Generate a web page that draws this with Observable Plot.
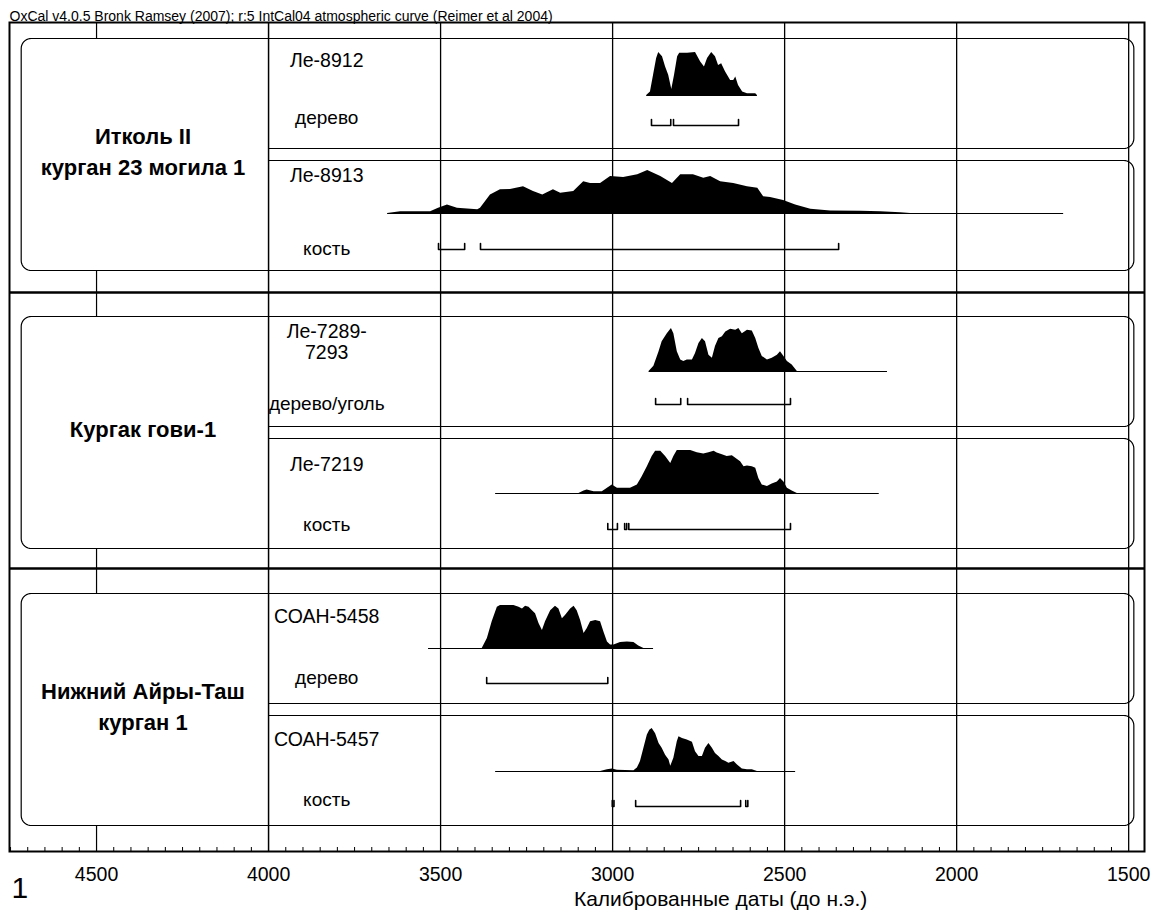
<!DOCTYPE html>
<html><head><meta charset="utf-8">
<script src="https://cdn.jsdelivr.net/npm/d3@7"></script>
<script src="https://cdn.jsdelivr.net/npm/@observablehq/plot@0.6"></script>
<style>body{margin:0;background:#fff;}</style>
</head><body><div id="chart"></div>
<script>
// ---------- data ----------
const caption = "OxCal v4.0.5 Bronk Ramsey (2007); r:5 IntCal04 atmospheric curve (Reimer et al 2004)";
const axisTitle = "Калиброванные даты (до н.э.)";
const figureNumber = "1";
const groupLabels = ["Итколь II\nкурган 23 могила 1", "Кургак гови-1", "Нижний Айры-Таш\nкурган 1"];
const sampleNames = ["Ле-8912", "Ле-8913", "Ле-7289-\n7293", "Ле-7219", "СОАН-5458", "СОАН-5457"];
const sampleMaterials = ["дерево", "кость", "дерево/уголь", "кость", "дерево", "кость"];
const sampleGroup = [0, 0, 1, 1, 2, 2];
const majorTicks = [4500, 4000, 3500, 3000, 2500, 2000, 1500];

// probability distributions: [year BC, relative probability]
const densLe8912 = [[2901,0],[2890,8],[2881,47],[2872,86],[2866,100],[2855,90],[2846,66],[2837,47],[2828,14],[2820,47],[2811,90],[2805,98],[2782,98],[2759,100],[2744,78],[2733,66],[2724,86],[2712,100],[2701,90],[2692,70],[2683,74],[2672,55],[2657,35],[2648,35],[2642,43],[2634,23],[2622,8],[2608,4],[2584,4],[2579,0]];
const densLe8913 = [[3654,0],[3616,4],[3529,4],[3506,12],[3480,20],[3451,12],[3392,9],[3384,12],[3355,43],[3326,55],[3297,56],[3259,62],[3230,51],[3203,43],[3172,55],[3151,47],[3113,51],[3084,74],[3064,70],[3035,70],[3006,86],[2968,84],[2927,90],[2898,100],[2860,86],[2826,70],[2802,90],[2765,90],[2735,82],[2715,86],[2686,74],[2648,70],[2608,62],[2578,59],[2561,39],[2541,37],[2503,30],[2468,20],[2424,10],[2366,6],[2279,5],[2221,4],[2163,2],[2134,0]];
const densLe7289 = [[2894,0],[2880,12],[2865,46],[2856,69],[2841,88],[2829,100],[2822,88],[2812,46],[2802,27],[2793,23],[2783,27],[2768,27],[2759,42],[2749,65],[2739,77],[2730,69],[2720,38],[2710,31],[2701,58],[2691,77],[2681,81],[2671,92],[2657,98],[2642,96],[2633,100],[2623,88],[2608,96],[2594,94],[2584,77],[2575,54],[2565,35],[2550,27],[2536,31],[2521,38],[2512,46],[2502,35],[2492,23],[2478,15],[2463,0]];
const densLe7219 = [[3098,0],[3083,6],[3074,8],[3054,4],[3030,4],[3015,12],[3001,20],[2986,12],[2948,12],[2928,20],[2914,39],[2899,62],[2885,86],[2875,98],[2860,98],[2846,86],[2831,70],[2822,86],[2812,100],[2773,100],[2754,95],[2735,92],[2720,95],[2705,98],[2696,94],[2681,90],[2667,86],[2652,88],[2642,82],[2628,74],[2618,62],[2608,64],[2594,62],[2584,59],[2575,35],[2565,20],[2550,16],[2536,22],[2521,27],[2512,35],[2502,27],[2492,12],[2478,6],[2463,0]];
const densSOAN5458 = [[3379,0],[3364,23],[3350,62],[3335,96],[3326,100],[3287,100],[3272,96],[3262,92],[3253,98],[3243,96],[3233,88],[3224,81],[3214,58],[3204,42],[3195,62],[3180,88],[3166,98],[3156,92],[3146,69],[3137,77],[3122,92],[3112,98],[3103,88],[3093,65],[3083,35],[3074,46],[3064,62],[3049,65],[3035,62],[3025,38],[3015,15],[3006,8],[2996,8],[2977,14],[2957,15],[2938,14],[2924,6],[2909,0]];
const densSOAN5457 = [[3035,0],[3015,4],[3001,6],[2986,3],[2938,2],[2928,8],[2919,23],[2909,54],[2899,85],[2892,96],[2885,100],[2875,88],[2865,65],[2856,54],[2846,38],[2836,27],[2831,12],[2822,31],[2812,69],[2807,81],[2797,77],[2783,73],[2768,68],[2759,46],[2749,35],[2739,35],[2730,54],[2720,65],[2710,54],[2701,42],[2691,35],[2681,27],[2671,23],[2662,19],[2647,23],[2637,15],[2623,6],[2608,4],[2594,4],[2579,0]];
const densities = [densLe8912, densLe8913, densLe7289, densLe7219, densSOAN5458, densSOAN5457];

// 95.4% ranges [from, to] (BC)
const rangesLe8912 = [[2887,2831],[2823,2634]];
const rangesLe8913 = [[3506,3430],[3384,2343]];
const rangesLe7289 = [[2875,2802],[2782,2483]];
const rangesLe7219 = [[3014,2986],[2965,2959],[2953,2483]];
const rangesSOAN5458 = [[3366,3014]];
const rangesSOAN5457 = [[3001,2996],[2933,2628],[2613,2607]];
const ranges = [rangesLe8912, rangesLe8913, rangesLe7289, rangesLe7219, rangesSOAN5458, rangesSOAN5457];

// extent of each distribution's base line (BC)
const baselineSpans = [[2901,2579],[3654,1689],[2894,2201],[3340,2225],[3535,2881],[3340,2468]];

// ---------- layout (y in layout units = pixels of the y scale) ----------
const groupHeights = [270, 276, 283];
const groupPad = [16, 24, 25];
const BOX_H = 110, BOX_GAP = 12;
const baseOff = [57, 53, 55, 55, 55, 56];
const bracketOff = [87, 89, 88, 91, 90, 91];
const nameOff = [22, 15, 25, 26, 23, 24];
const matOff = [79, 88, 87, 86, 84, 84];
const PEAK = 43, TICK = 6;
const X_DOMAIN = [4753, 1454];
const PX_PER_YEAR = 1135 / (X_DOMAIN[0] - X_DOMAIN[1]);
const LABEL_LEFT = 4719, BOX_RIGHT = 1485, COL_EDGE = 4000, TEXT_X = 3831, GROUP_TEXT_X = 4365, TITLE_X = 2686;
const R = 10, rY = R / PX_PER_YEAR;

const total = d3.sum(groupHeights);
const groupTop = groupHeights.map((h, i) => d3.sum(groupHeights.slice(0, i)));
const samples = sampleNames.map((name, i) => {
  const g = sampleGroup[i];
  const k = sampleGroup.slice(0, i).filter(v => v === g).length;
  const top = groupTop[g] + groupPad[g] + k * (BOX_H + BOX_GAP);
  return {i, g, name, material: sampleMaterials[i], top, bottom: top + BOX_H, base: top + baseOff[i]};
});
const groupBoxes = groupLabels.map((label, g) => {
  const ss = samples.filter(s => s.g === g);
  return {g, label, top: ss[0].top, bottom: ss[ss.length - 1].bottom};
});

function arc(cx, cy, a0, a1, n = 10) {
  return d3.range(n + 1).map(j => {
    const a = a0 + (a1 - a0) * j / n;
    return [cx - R * Math.cos(a) / PX_PER_YEAR, cy + R * Math.sin(a)];
  });
}
const outlinePts = [];
samples.forEach(s => {
  const pts = [[COL_EDGE, s.top], ...arc(BOX_RIGHT + rY, s.top + R, -Math.PI / 2, 0), ...arc(BOX_RIGHT + rY, s.bottom - R, 0, Math.PI / 2), [COL_EDGE, s.bottom]];
  pts.forEach(p => outlinePts.push({x: p[0], y: p[1], id: "s" + s.i}));
});
groupBoxes.forEach(b => {
  const pts = [[COL_EDGE, b.top], ...arc(LABEL_LEFT - rY, b.top + R, -Math.PI / 2, -Math.PI), ...arc(LABEL_LEFT - rY, b.bottom - R, Math.PI, Math.PI / 2), [COL_EDGE, b.bottom]];
  pts.forEach(p => outlinePts.push({x: p[0], y: p[1], id: "g" + b.g}));
});

// grid line at 4500 shows only in gaps between boxes
const gapSegs = [];
let prev = 0;
groupBoxes.forEach(b => { gapSegs.push({y1: prev, y2: b.top}); prev = b.bottom; });
gapSegs.push({y1: prev, y2: total});

const areaPts = [], basePts = [], bracketPts = [];
samples.forEach(s => {
  densities[s.i].forEach(([year, p]) => areaPts.push({year, y1: s.base, y2: s.base - PEAK * p / 100, id: s.i}));
  basePts.push({x1: baselineSpans[s.i][0], x2: baselineSpans[s.i][1], y: s.base});
  ranges[s.i].forEach(([a, b], j) => {
    const by = s.top + bracketOff[s.i];
    [[a, by - TICK], [a, by], [b, by], [b, by - TICK]].forEach(([x, y]) => bracketPts.push({x, y, id: s.i + "-" + j}));
  });
});
const minorTicks = d3.range(1500, 4751, 50).filter(t => t % 500 !== 0);
const FONT = "'Liberation Sans', Arial, sans-serif";

const chart = Plot.plot({
  width: 1157, height: 924,
  marginTop: 22, marginBottom: 73, marginLeft: 9, marginRight: 13,
  x: {domain: X_DOMAIN, axis: null},
  y: {domain: [0, total], reverse: true, axis: null},
  style: {fontFamily: FONT, background: "white", color: "black"},
  marks: [
    Plot.ruleX(majorTicks.filter(t => t !== 4500), {y1: 0, y2: total, stroke: "black", strokeWidth: d => d === 4000 ? 1.5 : 1.3}),
    Plot.ruleX(gapSegs, {x: 4500, y1: "y1", y2: "y2", stroke: "black", strokeWidth: 1.2}),
    Plot.ruleX(minorTicks, {y1: total - 4, y2: total, stroke: "black", strokeWidth: 1}),
    Plot.ruleY(groupTop.slice(1), {stroke: "black", strokeWidth: 2.4}),
    Plot.frame({stroke: "black", strokeWidth: 2}),
    Plot.line(outlinePts, {x: "x", y: "y", z: "id", stroke: "black", strokeWidth: 1.2, curve: "linear"}),
    Plot.ruleY(basePts, {x1: "x1", x2: "x2", y: "y", stroke: "black", strokeWidth: 1}),
    Plot.areaY(areaPts, {x: "year", y1: "y1", y2: "y2", z: "id", fill: "black", curve: "linear"}),
    Plot.line(bracketPts, {x: "x", y: "y", z: "id", stroke: "black", strokeWidth: 1.6, curve: "linear"}),
    Plot.text(groupBoxes, {x: GROUP_TEXT_X, y: d => (d.top + d.bottom) / 2 - 5, text: "label", fontSize: 22, fontWeight: "bold", lineHeight: 1.4, textAnchor: "middle"}),
    Plot.text(samples, {x: TEXT_X, y: d => d.top + nameOff[d.i], text: "name", fontSize: 19.5, lineHeight: 1.08, textAnchor: "middle"}),
    Plot.text(samples, {x: TEXT_X, y: d => d.top + matOff[d.i], text: "material", fontSize: 19, textAnchor: "middle"}),
    Plot.axisX(majorTicks, {tickSize: 0, tickPadding: 16, fontSize: 19.5, tickFormat: d => String(d), label: null}),
    Plot.text([axisTitle], {x: TITLE_X, frameAnchor: "bottom", dy: 54, text: d => d, fontSize: 21}),
    Plot.text([figureNumber], {frameAnchor: "bottom-left", dx: 2, dy: 46, text: d => d, fontSize: 30}),
    Plot.text([caption], {frameAnchor: "top-left", dy: -11, text: d => d, fontSize: 14, textAnchor: "start"})
  ]
});
document.getElementById("chart").appendChild(chart);
</script></body></html>
